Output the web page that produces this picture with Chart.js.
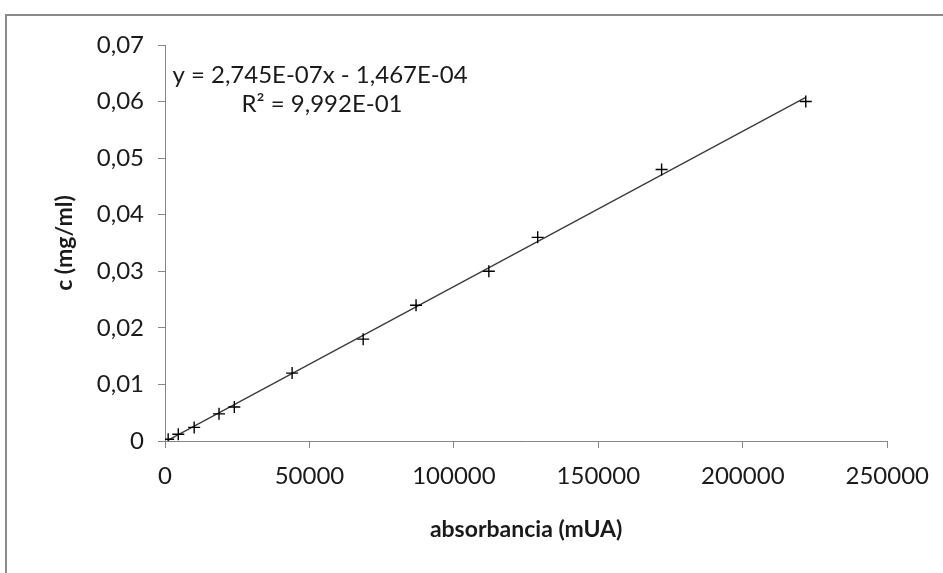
<!DOCTYPE html>
<html>
<head>
<meta charset="utf-8">
<script src="https://cdn.jsdelivr.net/npm/chart.js@4.4.0/dist/chart.umd.min.js"></script>
<style>
  html, body { margin: 0; padding: 0; background: #fff; }
  #wrap { position: relative; width: 943px; height: 573px; overflow: hidden; }
  #frame { position: absolute; left: 5px; top: 14px; width: 1200px; height: 1200px;
           border-left: 2px solid #8a8a8a; border-top: 2px solid #8a8a8a; }
  #calib { position: absolute; left: 0; top: 0; }
</style>
</head>
<body>
<div id="wrap">
  <div id="frame"></div>
  <canvas id="calib" width="943" height="573"></canvas>
</div>
<script>
// calibration points: absorbance (mUA) vs concentration (mg/ml)
const absorbance = [1100, 4600, 10100, 18700, 24000, 44000, 68600, 86900, 112100, 129000, 171900, 221800];
const concentration = [0.0003, 0.0012, 0.0024, 0.0048, 0.006, 0.012, 0.018, 0.024, 0.030, 0.036, 0.048, 0.060];

const xTicks = [0, 50000, 100000, 150000, 200000, 250000];
const yTicks = [0, 0.01, 0.02, 0.03, 0.04, 0.05, 0.06, 0.07];

// linear fit
const slope = 2.745e-7;
const intercept = -1.467e-4;
const r2 = 0.9992;

const FONT = 'Lato, "Open Sans", sans-serif';
const AXIS = '#868686';
const INK = '#1a1a1a';

// Excel style scientific notation with decimal comma, e.g. 2,745E-07
function sci(v) {
  const e = Math.floor(Math.log10(Math.abs(v)));
  const m = Math.abs(v) / Math.pow(10, e);
  const exp = (e < 0 ? '-' : '+') + String(Math.abs(e)).padStart(2, '0');
  return m.toFixed(3).replace('.', ',') + 'E' + exp;
}

const xMin = Math.min(...absorbance), xMax = Math.max(...absorbance);
const fitLine = [
  {x: xMin, y: slope * xMin + intercept},
  {x: xMax, y: slope * xMax + intercept}
];

const eqLines = [
  'y = ' + sci(slope) + 'x ' + (intercept < 0 ? '- ' : '+ ') + sci(Math.abs(intercept)),
  'R\u00b2 = ' + sci(r2)
];

const extras = {
  id: 'extras',
  afterDraw(chart) {
    const ctx = chart.ctx;
    ctx.save();
    ctx.fillStyle = INK;
    ctx.textAlign = 'center';
    ctx.textBaseline = 'middle';
    ctx.font = '24px ' + FONT;
    ctx.fillText(eqLines[0], 320, 75);
    ctx.fillText(eqLines[1], 322, 104);
    ctx.restore();
  }
};

new Chart(document.getElementById('calib'), {
  type: 'scatter',
  data: {
    datasets: [
      {
        label: 'fit',
        type: 'line',
        data: fitLine,
        borderColor: '#3a3a3a',
        borderWidth: 1.3,
        pointRadius: 0,
        fill: false,
        order: 2
      },
      {
        label: 'c',
        data: absorbance.map((a, i) => ({x: a, y: concentration[i]})),
        pointStyle: 'cross',
        pointRadius: 6,
        borderColor: '#000',
        borderWidth: 1.4,
        order: 1
      }
    ]
  },
  options: {
    responsive: false,
    animation: false,
    layout: { padding: { left: 0, top: 45, right: 55.5, bottom: 0 } },
    plugins: { legend: { display: false }, tooltip: { enabled: false } },
    scales: {
      x: {
        type: 'linear',
        min: 0, max: 250000,
        afterBuildTicks: s => { s.ticks = xTicks.map(v => ({value: v})); },
        afterFit: s => { s.height = 132; },
        ticks: {
          color: INK, font: { family: FONT, size: 24 }, padding: 14,
          maxRotation: 0, callback: v => String(v)
        },
        grid: { drawOnChartArea: false, drawTicks: true, tickLength: 7, color: AXIS },
        border: { color: AXIS, width: 1 },
        title: {
          display: true, text: 'absorbancia (mUA)', color: INK,
          font: { family: FONT, size: 23, weight: 'bold' },
          padding: { top: 0, bottom: 30 }
        }
      },
      y: {
        type: 'linear',
        min: 0, max: 0.07,
        afterBuildTicks: s => { s.ticks = yTicks.map(v => ({value: v})); },
        afterFit: s => { s.width = 165; },
        ticks: {
          color: INK, font: { family: FONT, size: 24 }, padding: 14,
          callback: v => v === 0 ? '0' : v.toFixed(2).replace('.', ',')
        },
        grid: { drawOnChartArea: false, drawTicks: true, tickLength: 7, color: AXIS },
        border: { color: AXIS, width: 1 },
        title: {
          display: true, text: 'c (mg/ml)', color: INK,
          font: { family: FONT, size: 23, weight: 'bold' },
          padding: { top: 51, bottom: 0 }
        }
      }
    }
  },
  plugins: [extras]
});
</script>
</body>
</html>
